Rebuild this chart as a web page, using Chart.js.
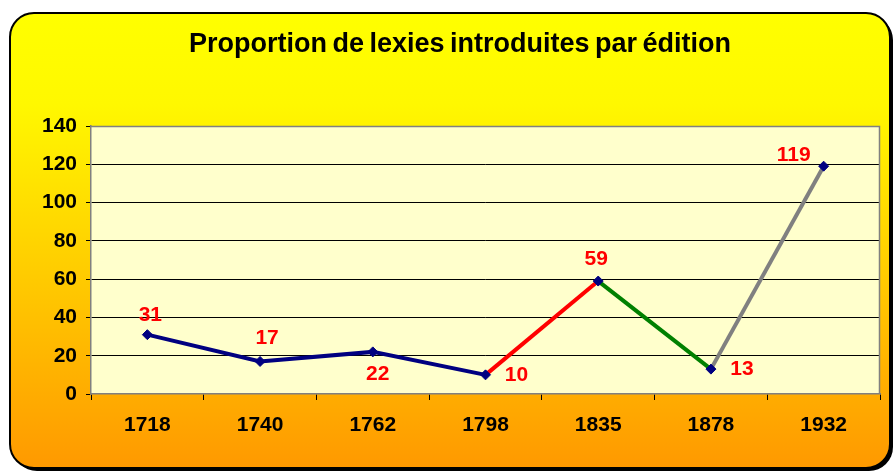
<!DOCTYPE html>
<html>
<head>
<meta charset="utf-8">
<script src="https://cdn.jsdelivr.net/npm/chart.js@4.4.0/dist/chart.umd.min.js"></script>
<style>
  html, body { margin: 0; padding: 0; background: #fff; }
  #wrap { width: 895px; height: 472px; position: relative; }
</style>
</head>
<body>
<div id="wrap"><canvas id="chart" width="895" height="472"></canvas></div>
<script>
// data
const editions = ['1718', '1740', '1762', '1798', '1835', '1878', '1932'];
const lexies = [31, 17, 22, 10, 59, 13, 119];
const yTicks = [0, 20, 40, 60, 80, 100, 120, 140];
const chartTitle = 'Proportion de lexies introduites par édition';

const FONT = '"Liberation Sans", Arial, sans-serif';

// colour of each line piece, by the index of its first point
function segmentColor(i) {
    if (i < 3) return '#000080';
    if (i === 3) return '#FF0000';
    if (i === 4) return '#008000';
    return '#808080';
}

function roundRect(ctx, x, y, w, h, r) {
    ctx.beginPath();
    ctx.moveTo(x + r, y);
    ctx.lineTo(x + w - r, y);
    ctx.arcTo(x + w, y, x + w, y + r, r);
    ctx.lineTo(x + w, y + h - r);
    ctx.arcTo(x + w, y + h, x + w - r, y + h, r);
    ctx.lineTo(x + r, y + h);
    ctx.arcTo(x, y + h, x, y + h - r, r);
    ctx.lineTo(x, y + r);
    ctx.arcTo(x, y, x + r, y, r);
    ctx.closePath();
}

const framePlugin = {
    id: 'frame',
    beforeDraw(chart) {
        const ctx = chart.ctx;
        const a = chart.chartArea;
        ctx.save();
        // shadow
        roundRect(ctx, 13, 16, 880, 455, 24);
        ctx.fillStyle = '#000';
        ctx.fill();
        // frame
        const g = ctx.createLinearGradient(0, 13, 0, 468);
        g.addColorStop(0, '#FFFF00');
        g.addColorStop(0.2, '#FFF800');
        g.addColorStop(1, '#FF9900');
        roundRect(ctx, 10, 13, 880, 455, 24);
        ctx.fillStyle = g;
        ctx.fill();
        ctx.lineWidth = 2;
        ctx.strokeStyle = '#000';
        ctx.stroke();
        // plot area
        ctx.fillStyle = '#FFFFCC';
        ctx.fillRect(a.left, a.top, a.right - a.left, a.bottom - a.top);
        // title
        ctx.fillStyle = '#000';
        ctx.font = 'bold 27px ' + FONT;
        ctx.textAlign = 'center';
        ctx.textBaseline = 'middle';
        if ('wordSpacing' in ctx) ctx.wordSpacing = '-2px';
        ctx.fillText(chartTitle, 460, 45);
        ctx.restore();
    },
    afterDatasetsDraw(chart) {
        const ctx = chart.ctx;
        const a = chart.chartArea;
        ctx.save();
        ctx.strokeStyle = '#808080';
        ctx.lineWidth = 1.5;
        ctx.beginPath();
        ctx.moveTo(a.left, a.top + 0.5);
        ctx.lineTo(a.right - 0.5, a.top + 0.5);
        ctx.lineTo(a.right - 0.5, a.bottom);
        ctx.stroke();
        ctx.restore();
    }
};

const valueLabels = {
    id: 'valueLabels',
    afterDatasetsDraw(chart, args, opts) {
        const ctx = chart.ctx;
        const meta = chart.getDatasetMeta(0);
        ctx.save();
        ctx.font = 'bold 21px ' + FONT;
        ctx.fillStyle = '#FF0000';
        ctx.textAlign = 'center';
        ctx.textBaseline = 'middle';
        meta.data.forEach((pt, i) => {
            const off = opts.offsets[i];
            ctx.fillText(String(lexies[i]), pt.x + off[0], pt.y + off[1]);
        });
        ctx.restore();
    }
};

new Chart(document.getElementById('chart'), {
    type: 'line',
    data: {
        labels: editions,
        datasets: [{
            data: lexies,
            borderWidth: 4,
            borderColor: '#000080',
            segment: { borderColor: c => segmentColor(c.p0DataIndex) },
            pointStyle: 'rectRot',
            pointRadius: 5,
            pointBackgroundColor: '#000080',
            pointBorderColor: '#000080',
            pointBorderWidth: 1,
            tension: 0
        }]
    },
    options: {
        responsive: false,
        animation: false,
        layout: { padding: { left: 0, right: 15, top: 126, bottom: 0 } },
        plugins: {
            legend: { display: false },
            title: { display: false },
            tooltip: { enabled: false },
            valueLabels: {
                offsets: [[3, -19], [7, -23], [5, 22], [31, 0], [-2, -22], [31, 0], [-30, -11]]
            }
        },
        scales: {
            x: {
                offset: true,
                afterFit: s => { s.height = 78; },
                grid: {
                    offset: true,
                    drawOnChartArea: false,
                    tickLength: 6,
                    tickColor: '#000',
                    tickWidth: 1
                },
                border: { color: '#808080', width: 1.5 },
                ticks: {
                    color: '#000',
                    padding: 13,
                    font: { family: FONT, size: 21, weight: 'bold' }
                }
            },
            y: {
                min: 0,
                max: 140,
                afterFit: s => { s.width = 91; },
                afterBuildTicks: s => { s.ticks = yTicks.map(v => ({ value: v })); },
                grid: {
                    color: c => (c.tick && (c.tick.value === 140 || c.tick.value === 0)) ? 'rgba(0,0,0,0)' : '#000',
                    lineWidth: 1,
                    tickLength: 5,
                    tickColor: '#000'
                },
                border: { color: '#808080', width: 1.5 },
                ticks: {
                    color: '#000',
                    padding: 9,
                    font: { family: FONT, size: 21, weight: 'bold' }
                }
            }
        }
    },
    plugins: [framePlugin, valueLabels]
});
</script>
</body>
</html>
